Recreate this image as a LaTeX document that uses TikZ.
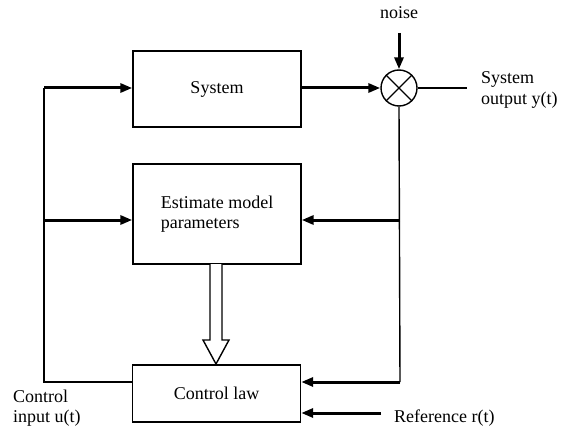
\documentclass[tikz,border=0pt]{standalone}
\usepackage{fontspec}
\setmainfont{Liberation Serif}
\usetikzlibrary{arrows.meta}
\begin{document}
\begin{tikzpicture}[x=1pt,y=-1pt,
  every node/.style={font=\fontsize{18}{20.5}\selectfont},
  block/.style={draw, line width=1.4pt, minimum width=168pt, inner sep=0pt, align=left},
  lbl/.style={inner sep=0pt, align=left},
  thinline/.style={line width=1.4pt},
  thickline/.style={line width=3pt},
  arr/.style={-{Triangle[length=12pt,width=9pt]}}]
\useasboundingbox (0,0) rectangle (565,433);

% blocks
\node[block, minimum height=76pt]  (sys) at (217,89)    {System};
\node[block, minimum height=100pt] (est) at (217,214)   {Estimate model\\parameters};
\node[block, minimum height=57pt]  (ctl) at (216.5,393.5) {Control law};

% summing junction with cross
\node[draw, circle, line width=1.4pt, minimum size=36pt, inner sep=0pt] (sum) at (399,88) {};
\draw[thinline] (sum.45) -- (sum.225) (sum.135) -- (sum.315);

% labels
\node[lbl] (noise) at (399,13) {noise};
\node[lbl, anchor=west] (yout) at (481,90) {System\\output y(t)};
\node[lbl, anchor=west] (uin) at (13,408) {Control\\input u(t)};
\node[lbl, anchor=west] (ref) at (394,418) {Reference r(t)};

% junction points
\coordinate (lt) at (44,88);
\coordinate (lm) at (44,220);
\coordinate (lb) at (44,382);
\coordinate (cl) at (ctl.west |- lb);
\coordinate (rm) at (400,220);
\coordinate (rb) at (400,382);
\coordinate (nz) at (399,33);
\coordinate (yo) at (467,88);
\coordinate (rf) at (381,413);

% control signal loop
\draw[thinline] (cl) -- (lb) -- (lt);
\draw[thickline, arr] (lt) -- (lt -| sys.west);
\draw[thickline, arr] (lm) -- (lm -| est.west);

% plant output and noise
\draw[thickline, arr] (sys.east |- sum) -- (sum.west);
\draw[thickline, arr] (nz) -- (sum.north);
\draw[thinline] (sum.east) -- (yo);

% measured output fed back
\draw[thinline] (sum.south) -- (rb);
\draw[thickline, arr] (rm) -- (rm -| est.east);
\draw[thickline, arr] (rb) -- (rb -| ctl.east);
\draw[thickline, arr] (rf) -- (rf -| ctl.east);

% parameter transfer (hollow arrow)
\draw[thinline, fill=white, line join=miter]
  (210,264) -- (210,340) -- (203,340) -- (216,364) -- (229,340) -- (222,340) -- (222,264);
\end{tikzpicture}
\end{document}
